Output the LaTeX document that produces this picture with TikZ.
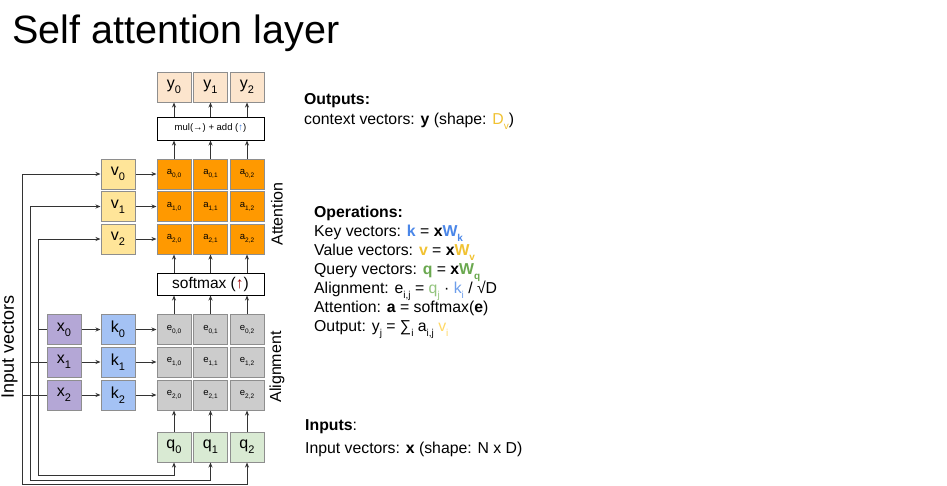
\documentclass[tikz,border=0pt]{standalone}
\usepackage{fontspec}
\setmainfont{Liberation Sans}
\usepackage{graphicx}
\usetikzlibrary{arrows.meta}
\definecolor{cy}{HTML}{FCE5CD}
\definecolor{ca}{HTML}{FF9900}
\definecolor{cv}{HTML}{FFE599}
\definecolor{cx}{HTML}{B4A7D6}
\definecolor{ck}{HTML}{A4C2F4}
\definecolor{ce}{HTML}{CCCCCC}
\definecolor{cq}{HTML}{D9EAD3}
\definecolor{bord}{HTML}{8E8E8E}
\definecolor{kc}{HTML}{4A86E8}
\definecolor{vc}{HTML}{F1C232}
\definecolor{qc}{HTML}{6AA84F}
\definecolor{qlc}{HTML}{93C47D}
\definecolor{klc}{HTML}{6D9EEB}
\definecolor{vlc}{HTML}{FFD966}
\definecolor{smred}{HTML}{990000}
\definecolor{mulblue}{HTML}{3C78D8}
\definecolor{lnc}{HTML}{333333}
\newcommand{\bsb}[1]{\raisebox{-5pt}{\fontsize{11}{11}\selectfont #1}}
\newcommand{\ssb}[1]{\raisebox{-3pt}{\fontsize{6.5}{6.5}\selectfont #1}}
\newcommand{\tsb}[1]{\raisebox{-5pt}{\fontsize{10}{10}\selectfont #1}}
\begin{document}
\begin{tikzpicture}[x=1pt,y=-1pt,
  bx/.style={draw=bord, line width=1pt, minimum width=34pt, minimum height=30pt, inner sep=0pt, font=\fontsize{16}{16}\selectfont},
  sc/.style={bx, font=\fontsize{9.5}{9.5}\selectfont},
  wide/.style={draw=black, line width=1pt, minimum width=107pt, inner sep=0pt},
  arr/.style={draw=lnc, line width=0.8pt, -{Stealth[length=5pt,width=4pt]}},
  plain/.style={draw=lnc, line width=0.8pt},
  txt/.style={anchor=base west, inner sep=0pt, font=\fontsize{15.8}{15.8}\selectfont},
  side/.style={rotate=90, inner sep=0pt, font=\fontsize{16}{16}\selectfont}]
\useasboundingbox (0,0) rectangle (947,485);
\fill[white] (0,0) rectangle (947,485);
\node[anchor=base west, inner sep=0pt, font=\fontsize{39.5}{40}\selectfont] (title) at (12,43) {Self attention layer};
% top outputs and q boxes
\foreach \j/\cx in {0/174,1/210.5,2/247} {
  \node[bx, fill=cy] (y\j) at (\cx,87) {y\bsb{\j}};
  \node[bx, fill=cq] (q\j) at (\cx,447) {q\bsb{\j}};
}
% attention rows
\foreach \i/\ry in {0/174,1/206.5,2/239} {
  \node[bx, fill=cv] (v\i) at (118,\ry) {v\bsb{\i}};
  \foreach \j/\cx in {0/174,1/210.5,2/247} {
    \node[sc, fill=ca] (a\i\j) at (\cx,\ry) {a\ssb{\i,\j}};
  }
}
% alignment rows
\foreach \i/\ry in {0/329.5,1/362,2/395} {
  \node[bx, fill=cx] (x\i) at (64,\ry) {x\bsb{\i}};
  \node[bx, fill=ck] (k\i) at (118,\ry) {k\bsb{\i}};
  \foreach \j/\cx in {0/174,1/210.5,2/247} {
    \node[sc, fill=ce] (e\i\j) at (\cx,\ry) {e\ssb{\i,\j}};
  }
}
\node[wide, minimum height=23pt, font=\fontsize{9.5}{9.5}\selectfont] (mul) at (210.5,128.5) {mul(→) + add (\textcolor{mulblue}{↑})};
\node[wide, minimum height=22pt, font=\fontsize{15.5}{15.5}\selectfont] (sm) at (210.5,284) {softmax (\textcolor{smred}{↑})};
% vertical arrows
\foreach \j in {0,1,2} {
  \draw[arr] (mul.north -| y\j.south) -- (y\j.south);
  \draw[arr] (a0\j.north) -- (a0\j.north |- mul.south);
  \draw[arr] (a2\j.south |- sm.north) -- (a2\j.south);
  \draw[arr] (e0\j.north) -- (e0\j.north |- sm.south);
  \draw[arr] (q\j.north) -- (e2\j.south);
}
% horizontal arrows
\foreach \i in {0,1,2} {
  \draw[arr] (v\i) -- (a\i0);
  \draw[arr] (x\i) -- (k\i);
  \draw[arr] (k\i) -- (e\i0);
}
% input vector lines
\coordinate (bA) at (22,484);
\coordinate (bB) at (30,480);
\coordinate (bC) at (38,475);
\draw[arr] (bA) |- (v0);
\draw[arr] (bA) -| (q2);
\draw[plain] (x2) -- (x2 -| bA);
\draw[arr] (bB) |- (v1);
\draw[arr] (bB) -| (q1);
\draw[plain] (x1) -- (x1 -| bB);
\draw[arr] (bC) |- (v2);
\draw[arr] (bC) -| (q0);
\draw[plain] (x0) -- (x0 -| bC);
% side labels
\node[side] (attl) at (277,214) {Attention};
\node[side] (alil) at (277,367) {Alignment};
\node[side, font=\fontsize{18}{18}\selectfont] (inl) at (9.5,347) {Input vectors};
% right-hand text
\node[txt] (o1) at (304,104) {\textbf{Outputs:}};
\node[txt] (o2) at (304,124) {context vectors: \textbf{y} (shape: \textcolor{vc}{D\tsb{v}})};
\node[txt] (p0) at (314,217.3) {\textbf{Operations:}};
\node[txt] (p1) at (314,236.4) {Key vectors: \textcolor{kc}{\textbf{k}} = \textbf{x}\textcolor{kc}{\textbf{W}\tsb{\textbf{k}}}};
\node[txt] (p2) at (314,255.5) {Value vectors: \textcolor{vc}{\textbf{v}} = \textbf{x}\textcolor{vc}{\textbf{W}\tsb{\textbf{v}}}};
\node[txt] (p3) at (314,274.6) {Query vectors: \textcolor{qc}{\textbf{q}} = \textbf{x}\textcolor{qc}{\textbf{W}\tsb{\textbf{q}}}};
\node[txt] (p4) at (314,293.7) {Alignment: e\tsb{i,j} = \textcolor{qlc}{q\tsb{j}} · \textcolor{klc}{k\tsb{i}} / √D};
\node[txt] (p5) at (314,312.8) {Attention: \textbf{a} = softmax(\textbf{e})};
\node[txt] (p6) at (314,331.9) {Output: y\tsb{j} = ∑\tsb{i} a\tsb{i,j} \textcolor{vlc}{v\tsb{i}}};
\node[txt] (i1) at (305,430) {\textbf{Inputs}:};
\node[txt] (i2) at (305,453) {Input vectors: \textbf{x} (shape: N x D)};
\end{tikzpicture}
\end{document}
